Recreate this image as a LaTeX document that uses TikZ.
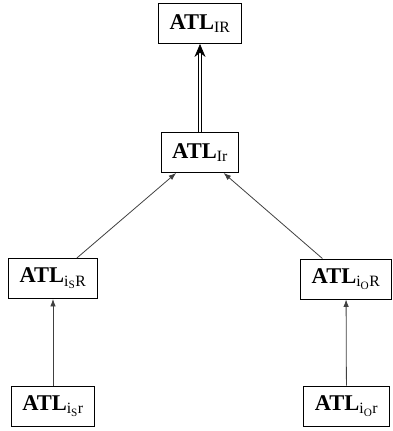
\documentclass[tikz,border=0pt]{standalone}
\usepackage{fontspec}
\setmainfont{Liberation Serif}
\usepackage{amsmath}
\usetikzlibrary{arrows.meta}
\begin{document}
\begin{tikzpicture}[x=1pt,y=1pt,
  atl/.style={draw=black, line width=0.9pt, minimum height=40pt, inner xsep=11pt, inner ysep=2pt,
    font=\fontsize{22.5}{25}\selectfont},
  conn/.style={draw=black!75, line width=0.8pt, -{Latex[length=7.5pt,width=5.5pt]}},
  dconn/.style={draw=black, double=white, double distance=2.4pt, line width=0.7pt, -{Stealth[length=13pt,width=11pt]}}]
\useasboundingbox (0,0) rectangle (392,-431);
\newcommand{\sub}[1]{$_{\textnormal{#1}}$}
\node[atl] (IR) at (200,-23.5) {\textbf{ATL}\sub{IR}};
\node[atl] (Ir) at (200,-152.5) {\textbf{ATL}\sub{Ir}};
\node[atl] (isR) at (53,-278.5) {\textbf{ATL}$_{\textnormal{i}_{\textnormal{S}}\textnormal{R}}$};
\node[atl] (ioR) at (346,-279) {\textbf{ATL}$_{\textnormal{i}_{\textnormal{O}}\textnormal{R}}$};
\node[atl] (isr) at (53,-406) {\textbf{ATL}$_{\textnormal{i}_{\textnormal{S}}\textnormal{r}}$};
\node[atl] (ior) at (346.5,-406) {\textbf{ATL}$_{\textnormal{i}_{\textnormal{O}}\textnormal{r}}$};
\draw[dconn] (Ir) -- (IR);
\draw[conn] (isR) -- (Ir);
\draw[conn] (ioR) -- (Ir);
\draw[conn] (isr) -- (isR);
\draw[conn] (ior) -- (ioR);
\end{tikzpicture}
\end{document}
